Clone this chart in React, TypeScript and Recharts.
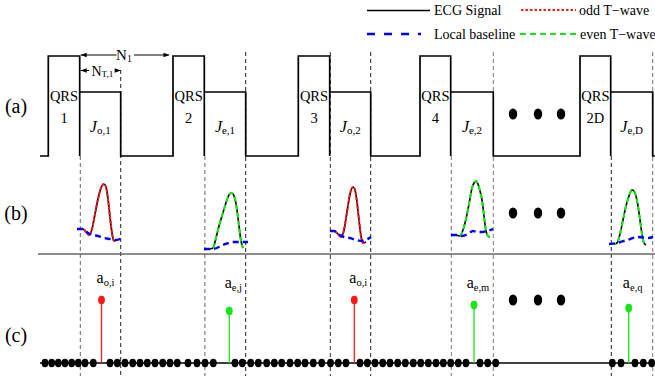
import React from 'react';
import { ComposedChart, Line, Scatter, XAxis, YAxis } from 'recharts';

const W = 655;
const H = 376;
const serif = '"Liberation Serif", "Times New Roman", serif';

// panel baselines (y units, 0 = bottom of figure)
const A0 = 220;
const B0 = 122;
const C0 = 13;

// beat timing (sample index)
const qrsOn = [48.3, 173, 298.3, 420, 580];
const qrsOff = [79.7, 204.3, 329.7, 450.7, 610.7];
const jOff = [120.7, 245.7, 370.7, 493.3, 652.7];
const qrsNames = ['1', '2', '3', '4', '2D'];
const jNames = ['o,1', 'e,1', 'o,2', 'e,2', 'e,D'];
const parity = ['odd', 'even', 'odd', 'even', 'even'];
const qrsLevel = 100;
const jLevel = 64;

// T-wave windows: [sample, amplitude]
const tWaveO1 = [[79.7, 25], [83, 25], [86, 22], [89, 19], [92, 25], [95, 40], [98, 55], [101, 66], [104, 70], [106, 67], [108, 55], [110, 37], [112, 21], [114, 13], [116, 14]];
const tWaveE1 = [[205, 5], [209, 5], [213, 6], [216, 16], [219, 28], [222, 38], [225, 48], [228, 57], [231, 61], [233, 60], [235, 55], [237, 44], [239, 28], [241, 13], [243, 6]];
const tWaveO2 = [[330, 23], [334, 23], [338, 20], [341, 17], [344, 24], [347, 42], [350, 60], [353, 67], [355, 64], [357, 52], [359, 34], [361, 18], [363, 11], [366, 12]];
const tWaveE2 = [[452, 19], [456, 19], [460, 18], [463, 24], [466, 35], [469, 50], [472, 66], [474, 71], [476, 73], [478, 70], [480, 63], [482, 54], [484, 38], [486, 23], [488, 18], [490, 17]];
const tWaveED = [[611, 10], [614, 10], [617, 11], [620, 20], [623, 34], [626, 48], [629, 58], [632, 64], [634, 63], [636, 58], [638, 48], [640, 34], [642, 20], [644, 11], [646, 9]];

const baseO1 = [[77, 25], [83, 25], [88, 21], [93, 19], [98, 18], [104, 16], [110, 15], [116, 14], [120, 15], [123, 17]];
const baseE1 = [[204, 5], [213, 5], [223, 9], [233, 12], [240, 12], [248, 12]];
const baseO2 = [[330, 23], [334, 23], [338, 20], [344, 17], [350, 16], [356, 14], [362, 13], [366, 14], [371, 17]];
const baseE2 = [[451, 19], [457, 19], [462, 18], [468, 20], [473, 23], [477, 22], [482, 22], [487, 23], [493, 25]];
const baseED = [[609, 10], [617, 11], [627, 14], [638, 17], [648, 16], [653, 17]];

const tWaves = [tWaveO1, tWaveE1, tWaveO2, tWaveE2, tWaveED];
const baselines = [baseO1, baseE1, baseO2, baseE2, baseED];

// detected T-wave amplitudes
const stemX = [101.5, 229.3, 354.3, 474, 628.7];
const stemAmp = [63, 52, 63, 58, 55];
const stemNames = ['o,i', 'e,j', 'o,i', 'e,m', 'e,q'];
const stemParity = ['odd', 'even', 'odd', 'even', 'even'];

// zero-valued samples in panel (c)
const zeroSamples = [45, 51.7, 58.3, 65, 71.7, 78.3, 85, 93.3, 110, 117.3, 125, 132.7, 140, 147.3, 155, 162.7, 170, 177.3, 188, 197, 205, 213.3, 235, 242.3, 250.7, 258.3, 266.7, 274.3, 281.7, 290, 297.7, 305, 313.3, 321.7, 330.5, 338.3, 346, 360, 367.3, 375, 382.7, 390, 397.7, 405.3, 413.3, 420.7, 428.3, 436, 443.3, 450.7, 458.3, 466, 480, 487.7, 495.7, 612.3, 621, 635, 643.3, 651.7];
const ellipsisX = [513, 538, 561];

const RED = '#ff1a1a';
const GREEN = '#19e619';
const BLUE = '#0000ff';

const toPts = (arr: number[][], base: number) => arr.map(([x, y]) => ({ x, y: base + y }));

// panel (a) rectangle signal
const signalA: { x: number; y: number }[] = [{ x: 40, y: A0 }];
qrsOn.forEach((on, i) => {
  signalA.push(
    { x: on, y: A0 }, { x: on, y: A0 + qrsLevel }, { x: qrsOff[i], y: A0 + qrsLevel },
    { x: qrsOff[i], y: A0 }, { x: qrsOff[i], y: A0 + jLevel }, { x: jOff[i], y: A0 + jLevel }, { x: jOff[i], y: A0 },
  );
});
signalA.push({ x: W, y: A0 });

const marks: any[] = [];
zeroSamples.forEach((x) => marks.push({ x, y: C0, kind: 'dot', fill: '#000' }));
stemX.forEach((x, i) => marks.push({ x, y: C0 + stemAmp[i], kind: 'dot', fill: stemParity[i] === 'odd' ? RED : GREEN }));
ellipsisX.forEach((x) => {
  marks.push({ x, y: H - 114, kind: 'big' }, { x, y: H - 213, kind: 'big' }, { x, y: H - 300, kind: 'big' });
});

const labels: any[] = [
  { x: 16, y: H - 105.5, kind: 'panel', main: '(a)' },
  { x: 16, y: H - 213, kind: 'panel', main: '(b)' },
  { x: 16, y: H - 335, kind: 'panel', main: '(c)' },
  { x: 124, y: H - 55, kind: 'n', main: 'N', sub: '1', size: 15 },
  { x: 102.5, y: H - 70.5, kind: 'n', main: 'N', sub: 'T,1', size: 14 },
];
qrsOn.forEach((on, i) => {
  const cx = (on + qrsOff[i]) / 2;
  labels.push({ x: cx, y: A0 + 60, kind: 'plain', main: 'QRS' });
  labels.push({ x: cx, y: A0 + 38, kind: 'plain', main: qrsNames[i] });
  labels.push({ x: (qrsOff[i] + jOff[i]) / 2, y: A0 + 30, kind: 'j', main: 'J', sub: jNames[i] });
});
stemX.forEach((x, i) => {
  labels.push({ x: x + 4, y: stemParity[i] === 'odd' ? H - 283 : H - 288, kind: 'a', main: 'a', sub: stemNames[i] });
});
const arrowHeads = [
  { x: qrsOff[0] + 1, y: H - 55, kind: 'left' },
  { x: qrsOn[1] - 3.5, y: H - 55, kind: 'right' },
  { x: qrsOff[0] + 1, y: H - 70.5, kind: 'left' },
  { x: jOff[0], y: H - 70.5, kind: 'right' },
];

const Mark = (props: any) => {
  const { cx, cy, payload } = props;
  if (payload.kind === 'big') return <ellipse cx={cx} cy={cy} rx={4.2} ry={5.6} fill="#000" />;
  return <ellipse cx={cx} cy={cy} rx={3.4} ry={4.2} fill={payload.fill} />;
};

const Arrow = (props: any) => {
  const { cx, cy, payload } = props;
  const d = payload.kind === 'left' ? 1 : -1;
  return <polygon points={`${cx},${cy} ${cx + 6 * d},${cy - 2.3} ${cx + 6 * d},${cy + 2.3}`} fill="#000" />;
};

const Label = (props: any) => {
  const { cx, cy, payload: p } = props;
  const common = { x: cx, y: cy, textAnchor: 'middle' as const, fontFamily: serif, fill: '#000' };
  if (p.kind === 'panel') return <text {...common} dominantBaseline="central" fontSize={20}>{p.main}</text>;
  if (p.kind === 'plain') return <text {...common} dominantBaseline="central" fontSize={14.5}>{p.main}</text>;
  if (p.kind === 'j')
    return (
      <text {...common} dominantBaseline="central">
        <tspan fontStyle="italic" fontSize={16}>{p.main}</tspan>
        <tspan fontSize={11} dy={4}>{p.sub}</tspan>
      </text>
    );
  if (p.kind === 'a')
    return (
      <text {...common} fontSize={16}>
        <tspan>{p.main}</tspan>
        <tspan fontSize={10.5} dy={3}>{p.sub}</tspan>
      </text>
    );
  return (
    <text {...common} dominantBaseline="central">
      <tspan fontSize={p.size}>{p.main}</tspan>
      <tspan fontSize={p.size * 0.66} dy={3}>{p.sub}</tspan>
    </text>
  );
};

const seg = (x1: number, y1: number, x2: number, y2: number) => [{ x: x1, y: y1 }, { x: x2, y: y2 }];

export default function App() {
  const startTop = [156, 156, 52, 156, 156];
  const endTop = [70, 52, 52, 52, 52];
  const startColor = ['#666', '#666', '#333', '#777', '#222'];
  const endColor = ['#222', '#222', '#222', '#777', '#777'];
  return (
    <div style={{ position: 'absolute', left: 0, top: 0, width: W, height: H, background: '#fff', fontFamily: serif }}>
      <ComposedChart width={W} height={H} margin={{ top: 0, right: 0, bottom: 0, left: 0 }}>
        <XAxis type="number" dataKey="x" domain={[0, W]} allowDataOverflow hide />
        <YAxis type="number" dataKey="y" domain={[0, H]} allowDataOverflow hide width={0} />

        {/* dashed window boundaries */}
        {qrsOff.map((x, i) => (
          <Line key={`ds${i}`} data={seg(x + 0.6, H - startTop[i], x + 0.6, 0)} dataKey="y" stroke={startColor[i]}
            strokeWidth={1} strokeDasharray="4 3" dot={false} isAnimationActive={false} />
        ))}
        {jOff.map((x, i) => (
          <Line key={`de${i}`} data={seg(x, H - endTop[i], x, 0)} dataKey="y" stroke={endColor[i]}
            strokeWidth={1} strokeDasharray="4 3" dot={false} isAnimationActive={false} />
        ))}

        {/* panel (a) */}
        <Line data={signalA} dataKey="y" stroke="#000" strokeWidth={1.7} dot={false} isAnimationActive={false} />
        <Line data={seg(qrsOff[0] + 1, H - 55, 116.5, H - 55)} dataKey="y" stroke="#000" strokeWidth={1} dot={false} isAnimationActive={false} />
        <Line data={seg(134, H - 55, qrsOn[1] - 4, H - 55)} dataKey="y" stroke="#000" strokeWidth={1} dot={false} isAnimationActive={false} />
        <Line data={seg(qrsOff[0] + 1, H - 70.5, 89, H - 70.5)} dataKey="y" stroke="#000" strokeWidth={1} dot={false} isAnimationActive={false} />
        <Line data={seg(116, H - 70.5, jOff[0], H - 70.5)} dataKey="y" stroke="#000" strokeWidth={1} dot={false} isAnimationActive={false} />
        <Scatter data={arrowHeads} dataKey="y" shape={Arrow} isAnimationActive={false} />

        {/* panel (b) */}
        <Line data={seg(38, B0, W, B0)} dataKey="y" stroke="#666" strokeWidth={1.5} dot={false} isAnimationActive={false} />
        {tWaves.map((w, i) => (
          <Line key={`ts${i}`} data={toPts(w, B0)} dataKey="y" type="monotone" stroke="#000" strokeWidth={1.6} dot={false} isAnimationActive={false} />
        ))}
        {tWaves.map((w, i) => (
          <Line key={`to${i}`} data={toPts(w, B0)} dataKey="y" type="monotone"
            stroke={parity[i] === 'odd' ? RED : GREEN} strokeWidth={2.1}
            strokeDasharray={parity[i] === 'odd' ? '3 1.5' : '5 3'} dot={false} isAnimationActive={false} />
        ))}
        {baselines.map((w, i) => (
          <Line key={`bl${i}`} data={toPts(w, B0)} dataKey="y" type="monotone" stroke={BLUE} strokeWidth={2.4}
            strokeDasharray="6 4" dot={false} isAnimationActive={false} />
        ))}

        {/* panel (c) */}
        <Line data={seg(40, C0, W, C0)} dataKey="y" stroke="#000" strokeWidth={1.3} dot={false} isAnimationActive={false} />
        {stemX.map((x, i) => (
          <Line key={`st${i}`} data={seg(x, C0, x, C0 + stemAmp[i])} dataKey="y"
            stroke={stemParity[i] === 'odd' ? RED : GREEN} strokeWidth={1.3} dot={false} isAnimationActive={false} />
        ))}
        <Scatter data={marks} dataKey="y" shape={Mark} isAnimationActive={false} />
        <Scatter data={labels} dataKey="y" shape={Label} isAnimationActive={false} />
      </ComposedChart>

      <svg style={{ position: 'absolute', left: 0, top: 0 }} width={W} height={48}>
        <line x1={367} x2={430} y1={10.5} y2={10.5} stroke="#000" strokeWidth={1.3} />
        <text x={434} y={15} fontSize={14} fontFamily={serif}>ECG Signal</text>
        <line x1={521} x2={576} y1={10} y2={10} stroke={RED} strokeWidth={2} strokeDasharray="2.5 2" />
        <text x={579} y={15} fontSize={14} fontFamily={serif}>odd T−wave</text>
        <line x1={367} x2={421} y1={34} y2={34} stroke={BLUE} strokeWidth={2.5} strokeDasharray="8 9" />
        <text x={434} y={39} fontSize={14} fontFamily={serif}>Local baseline</text>
        <line x1={520} x2={578} y1={34} y2={34} stroke={GREEN} strokeWidth={2} strokeDasharray="6 4" />
        <text x={580} y={39} fontSize={14} fontFamily={serif}>even T−wave</text>
      </svg>
    </div>
  );
}
